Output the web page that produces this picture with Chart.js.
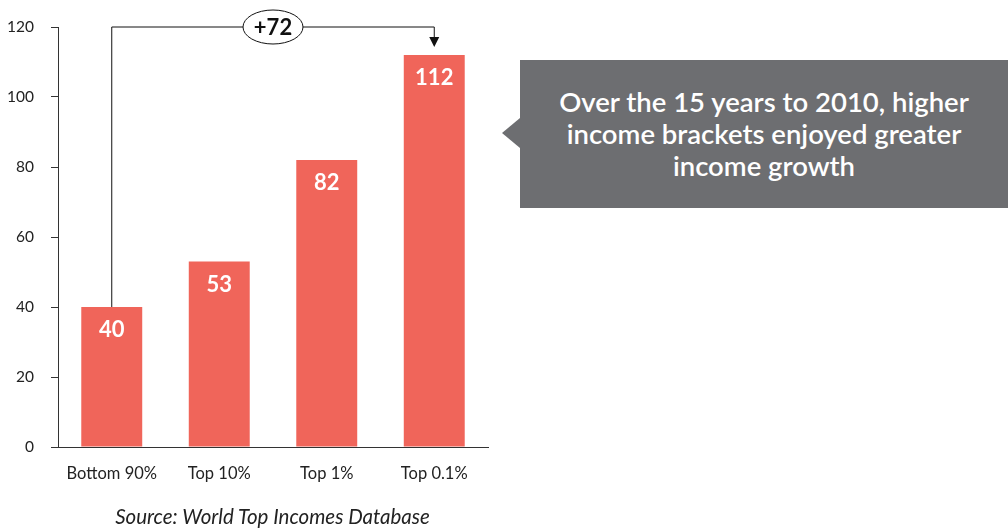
<!DOCTYPE html>
<html>
<head>
<meta charset="utf-8">
<script src="https://cdn.jsdelivr.net/npm/chart.js@4"></script>
<style>
  html, body { margin: 0; padding: 0; background: #fff; }
  #wrap { position: relative; width: 1008px; height: 530px; }
  #callout {
    position: absolute; left: 520px; top: 60px; width: 488px; height: 148px;
    background: #6d6e71; color: #fff; font-family: Lato, sans-serif; font-weight: 600;
    font-size: 27.5px; line-height: 32px; text-align: center;
    display: flex; align-items: center; justify-content: center;
  }
  #callout:before {
    content: ''; position: absolute; left: -18px; top: 58px;
    border-top: 15px solid transparent; border-bottom: 15px solid transparent;
    border-right: 18px solid #6d6e71;
  }
  #source {
    position: absolute; left: 0; width: 545px; top: 504px; text-align: center;
    font-family: Lato, sans-serif; font-style: italic; font-size: 20.5px; color: #222;
  }
</style>
</head>
<body>
<div id="wrap">
  <canvas id="chart" width="1008" height="530"></canvas>
  <div id="callout">Over the 15 years to 2010, higher<br>income brackets enjoyed greater<br>income growth</div>
  <div id="source">Source: World Top Incomes Database</div>
</div>
<script>
// Données
const categories = ['Bottom 90%', 'Top 10%', 'Top 1%', 'Top 0.1%'];
const growth = [40, 53, 82, 112];
const yTicks = [0, 20, 40, 60, 80, 100, 120];
const gapLabel = '+72';

const barColor = '#f0655a';

// Étiquettes blanches dans les barres + flèche d'écart
const annotations = {
    id: 'annotations',
    afterDatasetsDraw(chart) {
        const ctx = chart.ctx;
        const bars = chart.getDatasetMeta(0).data;
        ctx.save();
        ctx.fillStyle = '#fff';
        ctx.font = 'bold 22px Lato';
        ctx.textAlign = 'center';
        ctx.textBaseline = 'middle';
        bars.forEach((b, i) => ctx.fillText(growth[i], b.x, b.y + 23));

        // ligne d'écart entre la première et la dernière barre
        const y = chart.scales.y;
        const topY = y.getPixelForValue(yTicks[yTicks.length - 1]);
        const first = bars[0], last = bars[bars.length - 1];
        ctx.strokeStyle = '#111';
        ctx.lineWidth = 1;
        ctx.beginPath();
        ctx.moveTo(first.x, first.y);
        ctx.lineTo(first.x, topY);
        ctx.lineTo(last.x, topY);
        ctx.lineTo(last.x, last.y - 10);
        ctx.stroke();
        ctx.fillStyle = '#111';
        ctx.beginPath();
        ctx.moveTo(last.x - 5, last.y - 18);
        ctx.lineTo(last.x + 5, last.y - 18);
        ctx.lineTo(last.x, last.y - 8);
        ctx.closePath();
        ctx.fill();

        const cx = (first.x + last.x) / 2;
        ctx.fillStyle = '#fff';
        ctx.beginPath();
        ctx.ellipse(cx, topY, 30, 17, 0, 0, Math.PI * 2);
        ctx.fill();
        ctx.stroke();
        ctx.fillStyle = '#111';
        ctx.font = 'bold 22px Lato';
        ctx.fillText(gapLabel, cx, topY + 1);
        ctx.restore();
    }
};

new Chart(document.getElementById('chart').getContext('2d'), {
    type: 'bar',
    data: {
        labels: categories,
        datasets: [{
            data: growth,
            backgroundColor: barColor,
            categoryPercentage: 1,
            barPercentage: 0.567
        }]
    },
    options: {
        responsive: false,
        animation: false,
        layout: { padding: { top: 27, right: 520, bottom: 0, left: 0 } },
        plugins: { legend: { display: false }, tooltip: { enabled: false } },
        scales: {
            x: {
                grid: { display: false },
                border: { color: '#333', width: 1 },
                ticks: { color: '#222', font: { family: 'Lato', size: 16.5 }, padding: 9 },
                afterFit(scale) { scale.height = 83; }
            },
            y: {
                min: 0,
                max: 120,
                afterBuildTicks(scale) { scale.ticks = yTicks.map(v => ({ value: v })); },
                grid: { drawOnChartArea: false, tickLength: 7, color: '#333' },
                border: { color: '#333', width: 1 },
                ticks: { color: '#222', font: { family: 'Lato', size: 15.5 }, padding: 17 },
                afterFit(scale) { scale.width = 58; }
            }
        }
    },
    plugins: [annotations]
});
</script>
</body>
</html>
